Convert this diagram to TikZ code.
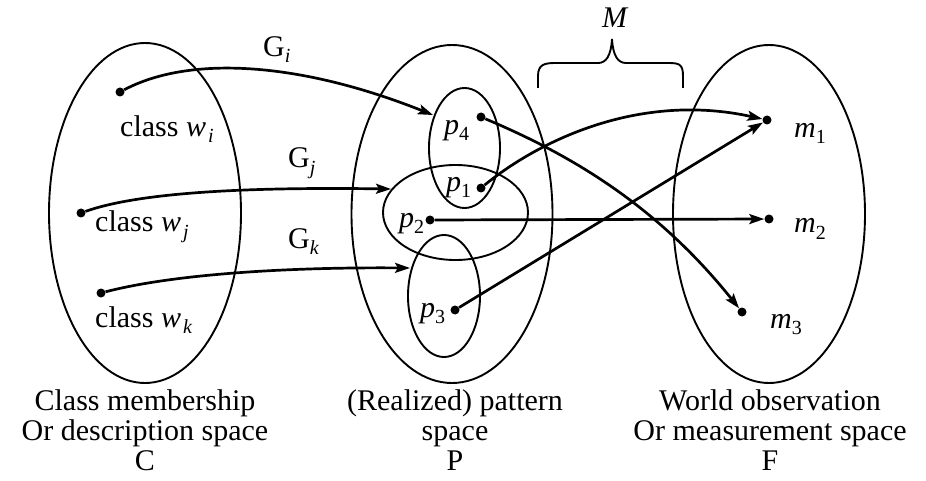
\documentclass[tikz,border=0pt]{standalone}
\usepackage{fontspec}
\setmainfont{Liberation Serif}
\usetikzlibrary{shapes.geometric,arrows.meta}
\newcommand\subsc[1]{\raisebox{-6pt}{\fontsize{20}{20}\selectfont #1}}
\begin{document}
\begin{tikzpicture}[x=1pt,y=-1pt,
 region/.style={draw, ellipse, line width=1.9pt, inner sep=0pt, outer sep=0pt},
 dot/.style={circle, fill, inner sep=0pt, minimum size=9pt},
 arr/.style={line width=2.7pt, -{Stealth[length=15pt,width=10pt,inset=3pt]}},
 lab/.style={anchor=base west, inner sep=0pt, font=\fontsize{30}{30}\selectfont},
 captxt/.style={anchor=north, inner sep=0pt, align=center, font=\fontsize{30}{30}\selectfont}]
\useasboundingbox (0,0) rectangle (926,481);
% spaces
\node[region, minimum width=192pt, minimum height=340pt] (C) at (145,213) {};
\node[region, minimum width=201pt, minimum height=338pt] (P) at (452,214) {};
\node[region, minimum width=192pt, minimum height=338pt] (F) at (769,214) {};
% inner pattern regions
\node[region, minimum width=71pt, minimum height=120pt] (E4) at (464.5,148) {};
\node[region, minimum width=145pt, minimum height=95pt] (E2) at (455.5,212.5) {};
\node[region, minimum width=72pt, minimum height=122pt] (E3) at (444,296) {};
% dots
\node[dot] (wi) at (120,92) {};
\node[dot] (wj) at (81,213) {};
\node[dot] (wk) at (101,293) {};
\node[dot] (p4) at (481,117) {};
\node[dot] (p1) at (481,188) {};
\node[dot] (p2) at (430,220) {};
\node[dot] (p3) at (455,310) {};
\node[dot] (m1) at (767,120) {};
\node[dot] (m2) at (769,219) {};
\node[dot] (m3) at (742,312) {};
% arrow targets on region borders
\coordinate (ti) at (433,115);
\coordinate (tj) at (391,189);
\coordinate (tk) at (410,268);
% arrows
\draw[arr] (wi) .. controls (190,55) and (300,62) .. (ti);
\draw[arr] (wj) .. controls (140,192) and (250,187) .. (tj);
\draw[arr] (wk) .. controls (170,275) and (280,267) .. (tk);
\draw[arr] (p4) .. controls (581,159) and (662,212) .. (m3);
\draw[arr] (p1) .. controls (540,140) and (640,92) .. (m1);
\draw[arr] (p2) -- (m2);
\draw[arr] (p3) -- (m1);
% brace
\draw[line width=1.9pt] (538,88) -- (538,76) .. controls (538,64) and (545,63) .. (556,63) -- (598,63)
  .. controls (606,63) and (611,56) .. (612,39) .. controls (613,56) and (618,63) .. (626,63) -- (668,63)
  .. controls (679,63) and (683,64) .. (683,76) -- (683,88);
% labels
\node[lab] (Mlab) at (602,28) {\textit{M}};
\node[lab] (Gi) at (263,57) {G\subsc{\textit{i}}};
\node[lab] (Gj) at (288,168) {G\subsc{\textit{j}}};
\node[lab] (Gk) at (288,248) {G\subsc{\textit{k}}};
\node[lab] (cwi) at (120,137) {class \textit{w}\kern2pt\subsc{\textit{i}}};
\node[lab] (cwj) at (95,232) {class \textit{w}\kern2pt\subsc{\textit{j}}};
\node[lab] (cwk) at (95,327) {class \textit{w}\kern2pt\subsc{\textit{k}}};
\node[lab] (lp4) at (444,135) {\textit{p}\subsc{4}};
\node[lab] (lp1) at (446,192) {\textit{p}\subsc{1}};
\node[lab] (lp2) at (399,227) {\textit{p}\subsc{2}};
\node[lab] (lp3) at (420,317) {\textit{p}\subsc{3}};
\node[lab] (lm1) at (794,138) {\textit{m}\subsc{1}};
\node[lab] (lm2) at (794,233) {\textit{m}\subsc{2}};
\node[lab] (lm3) at (770,328) {\textit{m}\subsc{3}};
% captions
\node[captxt] (capC) at (145,389) {Class membership\\Or description space\\C};
\node[captxt] (capP) at (455,389) {(Realized) pattern\\space\\P};
\node[captxt] (capF) at (770,389) {World observation\\Or measurement space\\F};
\end{tikzpicture}
\end{document}
